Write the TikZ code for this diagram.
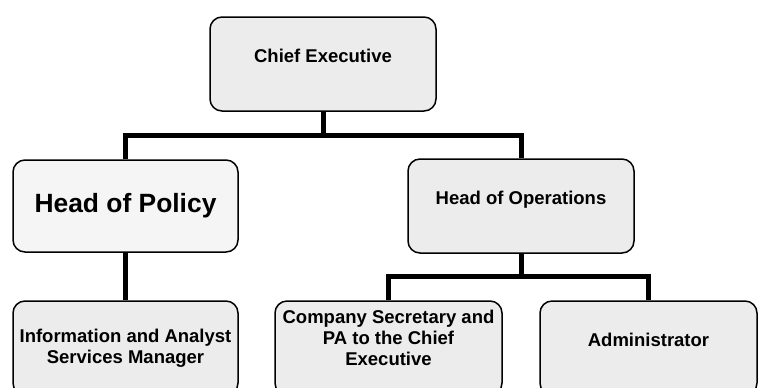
\documentclass[tikz,border=0pt]{standalone}
\usepackage{fontspec}
\setmainfont{Liberation Sans}
\usetikzlibrary{positioning,calc}
\tikzstyle{post}=[align=center, draw=black, line width=0.75pt, rounded corners=6pt,
  fill=gray!15, font=\fontsize{9.25}{10.5}\selectfont\bfseries,
  minimum height=47pt, inner sep=2pt]
\tikzstyle{upper}=[text height=6.7pt, text depth=8.7pt]
\tikzstyle{granite}=[fill=gray!8, font=\fontsize{13.2}{15}\selectfont\bfseries]
\tikzstyle{org line}=[line width=2.5pt]

\begin{document}
\begin{tikzpicture}[x=0.5pt,y=-0.5pt]
\clip (0,0) rectangle (759,387);
\useasboundingbox (0,0) rectangle (759,387);

\draw (323,64) node[post,upper,minimum width=113pt] (chief) {Chief Executive};

\draw (chief) ++(-197.5,142) node[post,granite,minimum width=112.5pt,minimum height=46pt] (policy)
{Head of Policy};
\draw (chief) ++(198,142) node[post,upper,minimum width=113pt] (ops) {Head of Operations};

\draw (policy) ++(0,142) node[post,minimum width=112.5pt] (info)
{Information and Analyst\\Services Manager};
\draw (ops) ++(-132.5,142) node[post,minimum width=113.5pt,text height=27.7pt,text depth=10pt] (secretary)
{Company Secretary and\\PA to the Chief\\Executive};
\draw (ops) ++(127.5,142) node[post,upper,minimum width=108.5pt] (admin) {Administrator};

\draw[org line] (chief.south) -- ++(0,24) coordinate (top bar);
\draw[org line] (policy.north) |- (top bar) -| (ops.north);
\draw[org line] (policy.south) -- (info.north);

\draw[org line] (ops.south) -- ++(0,23) coordinate (ops bar);
\draw[org line] (secretary.north) |- (ops bar) -| (admin.north);

\end{tikzpicture}
\end{document}
